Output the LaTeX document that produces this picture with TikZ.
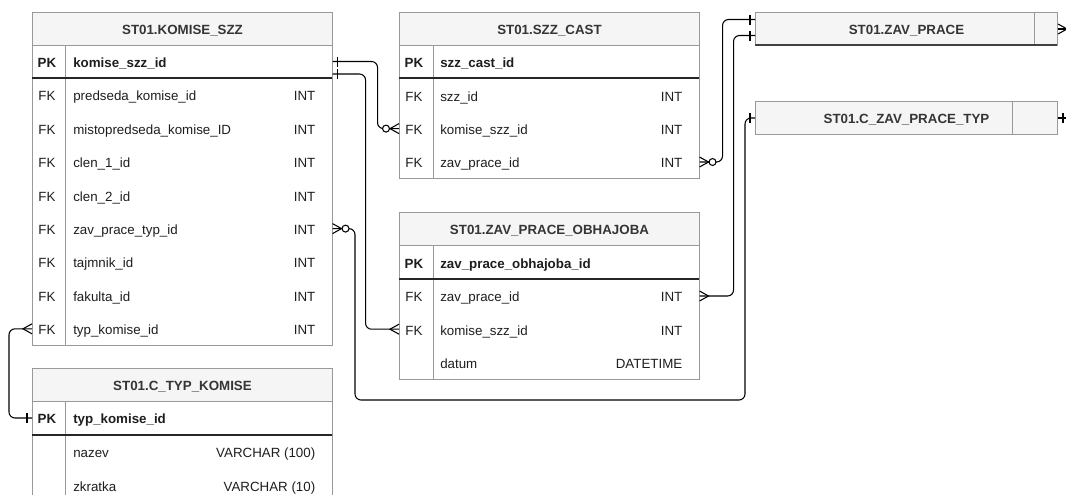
\documentclass[tikz,border=0pt]{standalone}
\usepackage{fontspec}
\setmainfont{Liberation Sans}
\usetikzlibrary{calc}
\definecolor{bord}{HTML}{999999}
\definecolor{hfill}{HTML}{F5F5F5}
\definecolor{txt}{HTML}{1E1E1E}
\tikzset{
  hdr/.style={draw=bord, line width=0.75pt, fill=hfill, anchor=north west, inner sep=0pt,
    minimum height=24.75pt, text height=8pt, text depth=0pt,
    font=\fontsize{10}{12}\selectfont\bfseries, text=txt!90!white},
  body/.style={draw=bord, line width=0.75pt, fill=white},
  sep/.style={draw=bord, line width=0.75pt},
  pkline/.style={draw=black!85, line width=1.1pt},
  rw/.style={anchor=west, inner sep=0pt, minimum height=25pt},
  keyt/.style={inner sep=0pt, text height=8.7pt, text depth=0pt, text=txt},
  fldt/.style={inner sep=0pt, anchor=west, text height=8.7pt, text depth=0pt, text=txt},
  typt/.style={inner sep=0pt, anchor=east, text height=8.7pt, text depth=0pt, text=txt},
  conn/.style={draw=black, line width=0.8pt, rounded corners=4.5pt},
  ermark/.style={draw=black, line width=0.8pt}
}
% row: name, x, ycenter, width(px), key, field, type
\newcommand\erRow[7]{%
  \node[rw, minimum width=#4*0.75pt] (#1) at (#2,#3) {};
  \node[keyt] (#1-k) at ($(#1.west)+(15,0)$) {#5};
  \node[fldt] (#1-f) at ($(#1.west)+(41,0)$) {#6};
  \node[typt] (#1-t) at ($(#1.east)+(-17,0)$) {#7};
}
\newcommand\erMany[2]{\draw[ermark] ($#1+(0,-5)$) -- ($#1+(#2*9,0)$) -- ($#1+(0,5)$);}
\newcommand\erZMany[2]{\erMany{#1}{#2}\draw[ermark,fill=white] ($#1+(#2*13,0)$) circle[radius=2.6pt];}
\newcommand\erOne[2]{\draw[ermark] ($#1+(#2*5,-5)$) -- ($#1+(#2*5,5)$);}
\begin{document}
\begin{tikzpicture}[x=0.75pt,y=-0.75pt, font=\fontsize{10}{12}\selectfont]
\useasboundingbox (0,0) rectangle (1066,494);
\clip (0,0) rectangle (1066,494);

% ---------- ST01.KOMISE_SZZ ----------
\draw[body] (32,45) rectangle (332,345);
\draw[sep] (65,45) -- (65,345);
\node[hdr, minimum width=225pt] (komise) at (32,12) {ST01.KOMISE\_SZZ};
\draw[pkline] (32,78) -- (332,78);
\erRow{k-pk}{32}{61.5}{300}{\bfseries PK}{\bfseries komise\_szz\_id}{}
\erRow{k-pred}{32}{95}{300}{FK}{predseda\_komise\_id}{INT}
\erRow{k-mist}{32}{128.4}{300}{FK}{mistopredseda\_komise\_ID}{INT}
\erRow{k-c1}{32}{161.8}{300}{FK}{clen\_1\_id}{INT}
\erRow{k-c2}{32}{195.2}{300}{FK}{clen\_2\_id}{INT}
\erRow{k-zav}{32}{228.6}{300}{FK}{zav\_prace\_typ\_id}{INT}
\erRow{k-taj}{32}{262}{300}{FK}{tajmnik\_id}{INT}
\erRow{k-fak}{32}{295.4}{300}{FK}{fakulta\_id}{INT}
\erRow{k-typ}{32}{328.8}{300}{FK}{typ\_komise\_id}{INT}

% ---------- ST01.C_TYP_KOMISE ----------
\draw[body] (32,401) rectangle (332,502);
\draw[sep] (65,401) -- (65,502);
\node[hdr, minimum width=225pt] (ctk) at (32,368) {ST01.C\_TYP\_KOMISE};
\draw[pkline] (32,435) -- (332,435);
\erRow{t-pk}{32}{418}{300}{\bfseries PK}{\bfseries typ\_komise\_id}{}
\erRow{t-naz}{32}{452}{300}{}{nazev}{VARCHAR (100)}
\erRow{t-zkr}{32}{485.5}{300}{}{zkratka}{VARCHAR (10)}

% ---------- ST01.SZZ_CAST ----------
\draw[body] (399,45) rectangle (699,178);
\draw[sep] (433,45) -- (433,178);
\node[hdr, minimum width=225pt] (cast) at (399,12) {ST01.SZZ\_CAST};
\draw[pkline] (399,78) -- (699,78);
\erRow{c-pk}{399}{61.5}{300}{\bfseries PK}{\bfseries szz\_cast\_id}{}
\erRow{c-szz}{399}{95.3}{300}{FK}{szz\_id}{INT}
\erRow{c-kom}{399}{128.6}{300}{FK}{komise\_szz\_id}{INT}
\erRow{c-zav}{399}{162}{300}{FK}{zav\_prace\_id}{INT}

% ---------- ST01.ZAV_PRACE_OBHAJOBA ----------
\draw[body] (399,245.5) rectangle (699,379);
\draw[sep] (433,245.5) -- (433,379);
\node[hdr, minimum width=225pt] (obh) at (399,212) {ST01.ZAV\_PRACE\_OBHAJOBA};
\draw[pkline] (399,279) -- (699,279);
\erRow{o-pk}{399}{262.3}{300}{\bfseries PK}{\bfseries zav\_prace\_obhajoba\_id}{}
\erRow{o-zav}{399}{296}{300}{FK}{zav\_prace\_id}{INT}
\erRow{o-kom}{399}{329.2}{300}{FK}{komise\_szz\_id}{INT}
\erRow{o-dat}{399}{362.5}{300}{}{datum}{DATETIME}

% ---------- ST01.ZAV_PRACE (collapsed) ----------
\node[hdr, minimum width=226.5pt] (zp) at (755,12) {ST01.ZAV\_PRACE};
\draw[sep] (1034,12) -- (1034,45);
\draw[draw=black!75, line width=1pt] (755,45) -- (1057,45);

% ---------- ST01.C_ZAV_PRACE_TYP (collapsed) ----------
\node[hdr, minimum width=226.5pt] (zpt) at (755,101) {ST01.C\_ZAV\_PRACE\_TYP};
\draw[sep] (1012,101) -- (1012,134);

% ---------- connectors ----------
\coordinate (k-pk2) at ($(k-pk.east)+(0,12.5)$);
\coordinate (zpin1) at ($(zp.west)+(0,-9.5)$);
\coordinate (zpin2) at ($(zp.west)+(0,6.5)$);
\coordinate (b1) at (355,400);
\coordinate (b2) at (745,400);
\coordinate (off1) at ($(zp.east)+(20,0)$);
\coordinate (off2) at ($(zpt.east)+(20,0)$);

\draw[conn] (k-pk.east) -- ++(45,0) |- (c-kom.west);
\draw[conn] (k-pk2) -- ++(33,0) |- (o-kom.west);
\draw[conn] (k-zav.east) -| (b1) -- (b2) |- (zpt.west);
\draw[conn] (c-zav.east) -- ++(23,0) |- (zpin1);
\draw[conn] (o-zav.east) -- ++(34,0) |- (zpin2);
\draw[conn] (k-typ.west) -- ++(-23,0) |- (t-pk.west);
\draw[conn] (zp.east) -- (off1);
\draw[conn] (zpt.east) -- (off2);

% ---------- markers ----------
\erOne{(k-pk.east)}{1}
\erZMany{(c-kom.west)}{-1}
\erOne{(k-pk2)}{1}
\erMany{(o-kom.west)}{-1}
\erZMany{(k-zav.east)}{1}
\erOne{(zpt.west)}{-1}
\erZMany{(c-zav.east)}{1}
\erOne{(zpin1)}{-1}
\erMany{(o-zav.east)}{1}
\erOne{(zpin2)}{-1}
\erMany{(k-typ.west)}{-1}
\erOne{(t-pk.west)}{-1}
\erMany{(zp.east)}{1}
\erOne{(zpt.east)}{1}
\end{tikzpicture}
\end{document}
